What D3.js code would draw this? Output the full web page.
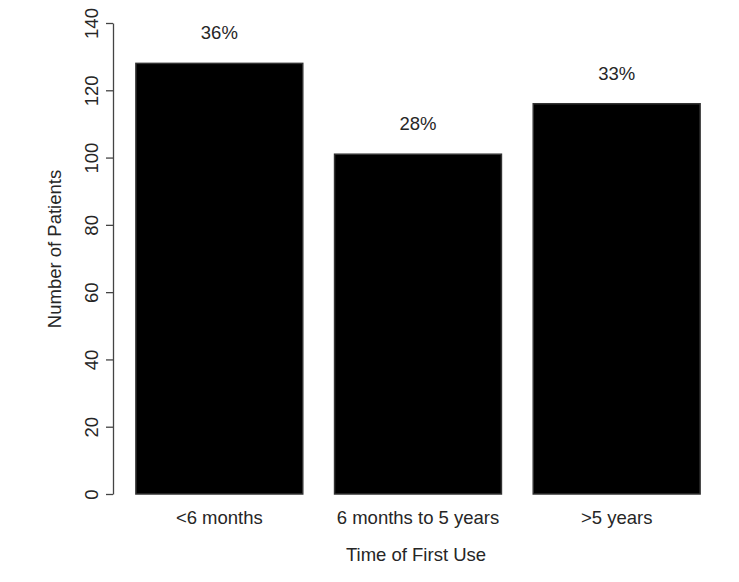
<!DOCTYPE html>
<meta charset="utf-8">
<html>
<head>
    <title>Time of First Use</title>
</head>
<style type="text/css">
    body{ margin:0; background:#fff; }
    text{
        font-family: "Liberation Sans", Arial, sans-serif;
        fill: #262626;
    }
</style>
<script src="https://cdn.jsdelivr.net/npm/d3@7"></script>
<body>
<script type="text/javascript">
var categories = ["<6 months", "6 months to 5 years", ">5 years"]
var patients = [128, 101, 116]
var percents = ["36%", "28%", "33%"]
var yTicks = [0, 20, 40, 60, 80, 100, 120, 140]

var svgWidth = 739, svgHeight = 582
var svg = d3.select("body").append("svg")
    .attr("width", svgWidth)
    .attr("height", svgHeight)

var x = d3.scaleBand()
    .domain(categories)
    .range([120, 716])
    .paddingInner(0.16)
    .paddingOuter(0.08)
var y = d3.scaleLinear().domain([0, 140]).range([494, 23])

// y axis, R style: line spans first to last tick
var yAxis = svg.append("g")
    .attr("transform", "translate(113,0)")
    .call(d3.axisLeft(y).tickValues(yTicks).tickSize(7).tickSizeOuter(0).tickPadding(6))
yAxis.select(".domain").attr("stroke", "#444").attr("stroke-width", 1.3)
yAxis.selectAll(".tick line").attr("stroke", "#444").attr("stroke-width", 1.3)
yAxis.selectAll(".tick text")
    .attr("font-size", "18.5px")
    .attr("fill", "#262626")
    .attr("text-anchor", "middle")
    .attr("x", 0).attr("dy", 0)
    .attr("transform", "translate(-20,0) rotate(-90)")
    .attr("dominant-baseline", "middle")

svg.selectAll("rect.bar")
    .data(patients)
    .enter()
    .append("rect")
    .attr("class", "bar")
    .attr("x", (d, i) => x(categories[i]))
    .attr("y", d => y(d))
    .attr("width", x.bandwidth())
    .attr("height", d => y(0) - y(d))
    .attr("fill", "#000")
    .attr("stroke", "#333")
    .attr("stroke-width", 1.5)

svg.selectAll("text.pct")
    .data(percents)
    .enter()
    .append("text")
    .attr("class", "pct")
    .attr("x", (d, i) => x(categories[i]) + x.bandwidth() / 2)
    .attr("y", (d, i) => y(patients[i]) - 24)
    .attr("text-anchor", "middle")
    .attr("font-size", "18.5px")
    .text(d => d)

svg.selectAll("text.cat")
    .data(categories)
    .enter()
    .append("text")
    .attr("class", "cat")
    .attr("x", d => x(d) + x.bandwidth() / 2)
    .attr("y", 524)
    .attr("text-anchor", "middle")
    .attr("font-size", "18.5px")
    .text(d => d)

svg.append("text")
    .attr("x", 416)
    .attr("y", 561)
    .attr("text-anchor", "middle")
    .attr("font-size", "18.5px")
    .text("Time of First Use")

svg.append("text")
    .attr("transform", "translate(61,249) rotate(-90)")
    .attr("text-anchor", "middle")
    .attr("font-size", "18.5px")
    .text("Number of Patients")
</script>
</body>
</html>
